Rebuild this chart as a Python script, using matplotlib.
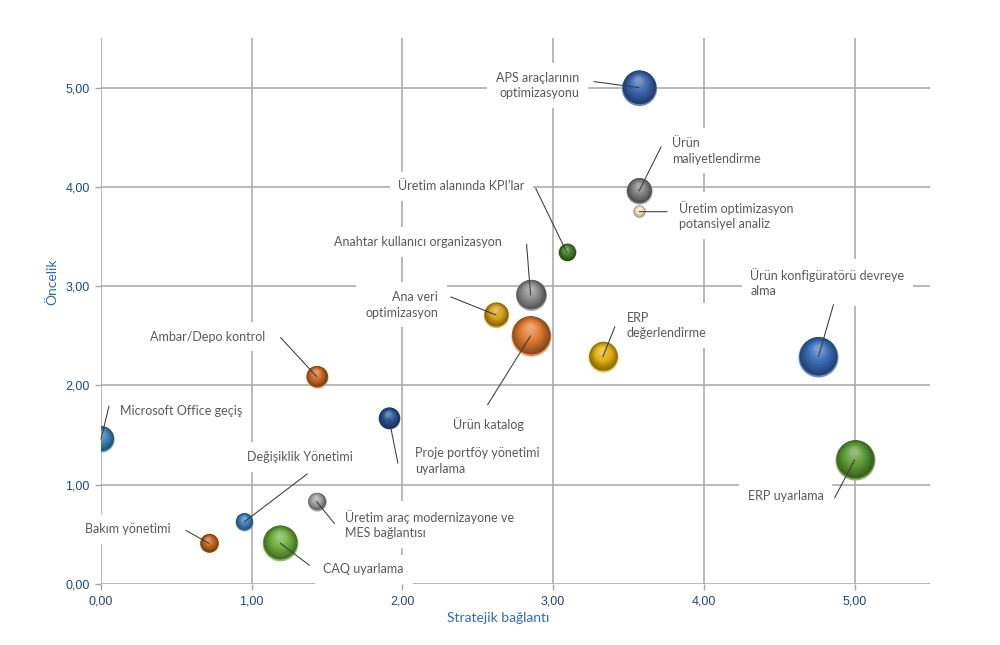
import numpy as np
import matplotlib
matplotlib.use('Agg')
import matplotlib.pyplot as plt
from matplotlib.colors import to_rgb
from matplotlib.ticker import FuncFormatter, MultipleLocator
from matplotlib.transforms import offset_copy

# Projects: strategic fit (x), priority (y), bubble value (area)
projects = [
    "APS araçlarının\noptimizasyonu",
    "Ürün\nmaliyetlendirme",
    "Üretim optimizasyon\npotansiyel analiz",
    "Üretim alanında KPI’lar",
    "Anahtar kullanıcı organizasyon",
    "Ana veri\noptimizasyon",
    "Ürün katalog",
    "ERP\ndeğerlendirme",
    "Ürün konfigüratörü devreye\nalma",
    "ERP uyarlama",
    "Ambar/Depo kontrol",
    "Microsoft Office geçiş",
    "Proje portföy yönetimi\nuyarlama",
    "Değişiklik Yönetimi",
    "Üretim araç modernizayone ve\nMES bağlantısı",
    "Bakım yönetimi",
    "CAQ uyarlama",
]
strategic = [3.57, 3.57, 3.57, 3.09, 2.85, 2.62, 2.85, 3.33, 4.76, 5.00,
             1.43, 0.00, 1.91, 0.95, 1.43, 0.715, 1.19]
priority = [5.00, 3.96, 3.75, 3.34, 2.91, 2.71, 2.50, 2.29, 2.29, 1.25,
            2.09, 1.46, 1.67, 0.625, 0.83, 0.41, 0.41]
weight = [3.1, 1.7, 0.4, 0.8, 2.4, 1.6, 4.0, 2.25, 4.0, 4.0,
          1.2, 1.7, 1.2, 0.8, 0.85, 0.9, 3.2]

# bubble colours
colors = ['#3A64AE', '#808080', '#F3E9C0', '#437F27', '#8C8C8C', '#D4A017',
          '#E07A30', '#E3AE12', '#3A6CB8', '#5E9C36', '#CC6A24', '#3F80B6',
          '#2A5596', '#3F80B6', '#A2A2A2', '#C4661F', '#6DAE3C']

# label layout: text anchor offset (px), alignment, leader start offset (px)
label_offsets = [(-60, 2), (33, 40), (40, -4), (-42, 66), (-29, 53), (-58, 10),
                 (-42, -88), (24, 31), (-68, 74), (-31, -36), (-51, 40),
                 (19, 28), (26, -43), (56, 65), (28, -23), (-38, 14), (43, -26)]
label_ha = ['right', 'left', 'left', 'right', 'right', 'right', 'center',
            'left', 'left', 'right', 'right', 'left', 'left', 'center',
            'left', 'right', 'left']
leader_offsets = [(-45, 6), (22, 44), (28, 0), (-31, 64), (-4, 51), (-45, 18),
                  (-43, -69), (12, 30), (15, 52), (-20, -38), (-36, 39),
                  (8, 33), (9, -45), (63, 48), (18, -22), (-23, 13), (29, -22)]

SIZE_SCALE = 207  # points^2 per unit of bubble value


def shade(c, t):
    c = np.array(to_rgb(c))
    if t < 0:
        return c * (1 + t)
    return c + (1 - c) * t


def draw_sphere(ax, fig, x, y, s, color):
    """Fake a 3D ball with stacked, shifted circles."""
    r = np.sqrt(s) / 2  # radius in points

    def disc(f, dx, dy, col, z):
        tr = offset_copy(ax.transData, fig=fig, x=dx, y=dy, units='points')
        ax.scatter([x], [y], s=s * f * f, color=[col], transform=tr,
                   linewidths=0, zorder=z)

    # light rim at the bottom, darker body above it
    disc(1.0, 0, 0, shade(color, 0.22), 2)
    disc(0.95, 0, 0.05 * r, shade(color, -0.4), 2.01)
    n = 16
    hx, hy = -0.06 * r, 0.45 * r
    for i in range(n):
        t = i / (n - 1)
        f = 0.92 - 0.75 * t
        if t < 0.5:
            col = shade(color, -0.35 + 0.35 * t / 0.5)
        else:
            col = shade(color, 0.32 * (t - 0.5) / 0.5)
        disc(f, hx * (1 - f), 0.05 * r + hy * (1 - f), col, 2.02 + 0.001 * i)


fig = plt.figure(figsize=(10, 6.45), dpi=100)
ax = fig.add_axes([0.101, 0.0946, 0.829, 0.8465])

ax.set_xlim(0, 5.5)
ax.set_ylim(0, 5.5)
ax.xaxis.set_major_locator(MultipleLocator(1))
ax.yaxis.set_major_locator(MultipleLocator(1))
fmt = FuncFormatter(lambda v, pos: f'{v:.2f}'.replace('.', ','))
ax.xaxis.set_major_formatter(fmt)
ax.yaxis.set_major_formatter(fmt)

for side in ax.spines.values():
    side.set_visible(False)
ax.grid(True, color='#A6A6A6', linewidth=1.1, zorder=0)
ax.set_axisbelow(True)
ax.tick_params(length=4, width=1, color='#A6A6A6', labelcolor='#1F497D',
               labelsize=9, pad=4)
for lab in ax.get_xticklabels() + ax.get_yticklabels():
    lab.set_family('Liberation Sans')

ax.set_xlabel('Stratejik bağlantı', color='#2E6DB0', fontsize=10, family='Lato')
ax.set_ylabel('Öncelik', color='#2E6DB0', fontsize=10, family='Lato')
ax.xaxis.set_label_coords(0.479, -0.052)
ax.yaxis.set_label_coords(-0.052, 0.553)

for i in range(len(projects)):
    draw_sphere(ax, fig, strategic[i], priority[i], weight[i] * SIZE_SCALE, colors[i])

    ax.annotate(projects[i], xy=(strategic[i], priority[i]), xytext=label_offsets[i],
                textcoords='offset pixels', ha=label_ha[i], va='center',
                multialignment=label_ha[i],
                fontsize=9, family='Lato', color='#595959', linespacing=1.35,
                bbox=dict(boxstyle='square,pad=0.7', fc='white', ec='none'),
                zorder=5, annotation_clip=False)

    ax.annotate('', xy=(strategic[i], priority[i]), xytext=leader_offsets[i],
                textcoords='offset pixels',
                arrowprops=dict(arrowstyle='-', color='#3A3A3A', lw=0.75,
                                shrinkA=0, shrinkB=0),
                zorder=6, annotation_clip=False)

fig.savefig('out.png', dpi=100)
